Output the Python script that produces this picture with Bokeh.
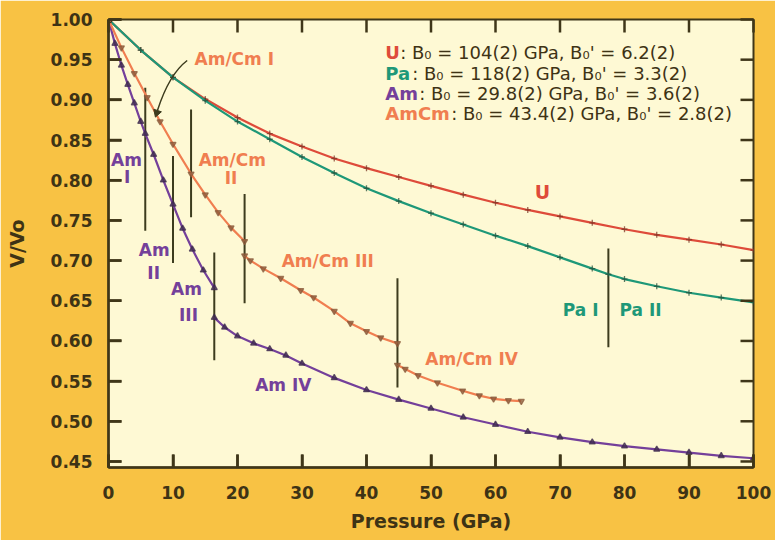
import math
from bokeh.plotting import figure
from bokeh.models import Range1d, FixedTicker, NumeralTickFormatter
from bokeh.core.properties import value
from bokeh.embed import file_html
from bokeh.resources import INLINE

nan = float("nan")

# ---------------- data ----------------
u_p = [0, 5, 10, 15, 20, 25, 30, 35, 40, 45, 50, 55, 60, 65, 70, 75, 80, 85, 90, 95, 100]
u_v = [1.000, 0.962, 0.928, 0.901, 0.878, 0.858, 0.842, 0.827, 0.815, 0.804, 0.793, 0.782, 0.772, 0.763, 0.755, 0.747, 0.739, 0.732, 0.726, 0.720, 0.713]

pa_p = [0, 5, 10, 15, 20, 25, 30, 35, 40, 45, 50, 55, 60, 65, 70, 75, 77.5, 80, 85, 90, 95, 100]
pa_v = [1.000, 0.962, 0.928, 0.899, 0.873, 0.851, 0.829, 0.809, 0.790, 0.774, 0.759, 0.745, 0.731, 0.718, 0.704, 0.690, 0.683, 0.677, 0.668, 0.660, 0.654, 0.648]

am_p = [0, 1, 2, 3, 4, 5, 5.7, 7, 8.5, 10, 11.5, 13, 14.7, 16.4, nan,
        16.4, 18, 20, 22.5, 25, 27.5, 30, 35, 40, 45, 50, 55, 60, 65, 70, 75, 80, 85, 90, 95, 100]
am_v = [1.000, 0.970, 0.943, 0.919, 0.896, 0.873, 0.858, 0.832, 0.800, 0.770, 0.740, 0.714, 0.688, 0.666, nan,
        0.629, 0.617, 0.606, 0.597, 0.590, 0.582, 0.572, 0.554, 0.539, 0.527, 0.516, 0.505, 0.496, 0.487, 0.480, 0.474, 0.469, 0.465, 0.461, 0.457, 0.454]

amcm_p = [0, 2, 4, 6, 8, 10, 12.8, 15, 17, 19, 21.1, nan,
          21.1, 22, 24, 26.7, 29.8, 31.8, 35, 37.5, 40, 42.2, 44.8, nan,
          44.8, 46, 48, 51, 54.9, 57.5, 59.7, 62, 64]
amcm_v = [1.000, 0.965, 0.933, 0.903, 0.873, 0.845, 0.808, 0.782, 0.760, 0.741, 0.724, nan,
          0.706, 0.700, 0.690, 0.678, 0.663, 0.654, 0.637, 0.622, 0.612, 0.604, 0.597, nan,
          0.570, 0.565, 0.557, 0.548, 0.538, 0.532, 0.528, 0.526, 0.525]

# phase-transition markers (pressure, lower V, upper V)
trans_p = [5.7, 10.0, 12.8, 16.4, 21.1, 44.8, 77.5]
trans_v0 = [0.737, 0.697, 0.754, 0.576, 0.647, 0.542, 0.592]
trans_v1 = [0.915, 0.830, 0.888, 0.710, 0.783, 0.678, 0.715]

x_ticks = [0, 10, 20, 30, 40, 50, 60, 70, 80, 90, 100]
y_ticks = [0.45, 0.50, 0.55, 0.60, 0.65, 0.70, 0.75, 0.80, 0.85, 0.90, 0.95, 1.00]

legend_names = ["U", "Pa", "Am", "AmCm"]
legend_rest = [": B\u2080 = 104(2) GPa, B\u2080' = 6.2(2)",
               ": B\u2080 = 118(2) GPa, B\u2080' = 3.3(2)",
               ": B\u2080 = 29.8(2) GPa, B\u2080' = 3.6(2)",
               ": B\u2080 = 43.4(2) GPa, B\u2080' = 2.8(2)"]

# ---------------- styling ----------------
OUTER = "#F8C244"
INNER = "#FEF9D4"
FRAME = "#3F3618"
TXT = "#3E3315"
C_U = "#DE4B3A"
C_PA = "#1E9878"
C_AM = "#74409A"
C_AMCM = "#F07E50"
VLINE = "#3D3C1E"

X0, X1 = 0, 100
Y0, Y1 = 0.4425, 1.0
W, H = 775, 540
BL, BR, BT, BB = 108, 22, 19, 73

p = figure(width=W, height=H, output_backend="svg", toolbar_location=None,
           x_range=Range1d(X0, X1), y_range=Range1d(Y0, Y1),
           min_border_left=BL, min_border_right=BR, min_border_top=BT, min_border_bottom=BB)
p.background_fill_color = INNER
p.border_fill_color = OUTER
p.outline_line_color = FRAME
p.outline_line_width = 2
p.xgrid.visible = False
p.ygrid.visible = False

FONT = "DejaVu Sans"

xa = p.xaxis[0]
ya = p.yaxis[0]
xa.ticker = FixedTicker(ticks=x_ticks)
ya.ticker = FixedTicker(ticks=y_ticks)
ya.formatter = NumeralTickFormatter(format="0.00")
for ax in (xa, ya):
    ax.axis_line_color = FRAME
    ax.axis_line_width = 2.5
    ax.major_tick_line_color = FRAME
    ax.major_tick_line_width = 2.5
    ax.major_tick_in = 13
    ax.major_tick_out = 0
    ax.minor_tick_line_color = None
    ax.major_label_text_font = FONT
    ax.major_label_text_font_style = "bold"
    ax.major_label_text_font_size = "17px"
    ax.major_label_text_color = TXT
    ax.axis_label_text_font = FONT
    ax.axis_label_text_font_style = "bold"
    ax.axis_label_text_font_size = "19px"
    ax.axis_label_text_color = TXT
xa.axis_label = "Pressure (GPa)"
ya.axis_label = "V/Vo"
xa.major_label_standoff = 18
xa.axis_label_standoff = 8
ya.major_label_standoff = 16
ya.axis_label_standoff = 20

# ---------------- phase transition lines ----------------
p.segment(x0=trans_p, y0=trans_v0, x1=trans_p, y1=trans_v1, line_color=VLINE, line_width=2)

# ---------------- curves ----------------
def series(px, pv, color, mcolor, marker):
    p.line(px, pv, line_color=color, line_width=2.2)
    mx = [a for a, b in zip(px, pv) if not (math.isnan(a) or math.isnan(b))]
    my = [b for a, b in zip(px, pv) if not (math.isnan(a) or math.isnan(b))]
    p.scatter(mx, my, marker=marker, size=6, line_color=mcolor, fill_color=mcolor, line_width=1.3, alpha=0.75)

series(u_p, u_v, C_U, "#7A3525", "cross")
series(pa_p, pa_v, C_PA, "#244F3A", "cross")
series(am_p, am_v, C_AM, "#3E2A4E", "triangle")
series(amcm_p, amcm_v, C_AMCM, "#8A5A3A", "inverted_triangle")

p.scatter([0], [1.0], marker="circle", size=7, fill_color=None, line_color=FRAME, line_width=1.2)

# ---------------- annotation arrow for Am/Cm I (curve + head glyph) ----------------
p.quadratic(x0=[12.2], y0=[0.949], x1=[7.6], y1=[0.887], cx=[9.4], cy=[0.932],
            line_color=VLINE, line_width=1.5)
p.scatter([7.5], [0.884], marker="triangle", size=8, angle=2.82,
          fill_color=VLINE, line_color=VLINE)

# ---------------- labels ----------------
def label(x, y, t, color, size="17px"):
    p.text(x=[x], y=[y], text=[t], text_color=color, text_font=value(FONT),
           text_font_style="bold", text_font_size=size, text_align="center", text_baseline="middle")

label(19.5, 0.951, "Am/Cm I", C_AMCM)
label(19.2, 0.825, "Am/Cm", C_AMCM)
label(19.0, 0.803, "II", C_AMCM)
label(2.8, 0.825, "Am", C_AM)
label(2.9, 0.804, "I", C_AM)
label(7.1, 0.713, "Am", C_AM)
label(7.0, 0.685, "II", C_AM)
label(12.1, 0.665, "Am", C_AM)
label(12.4, 0.632, "III", C_AM)
label(27.1, 0.545, "Am IV", C_AM)
label(34.0, 0.700, "Am/Cm III", C_AMCM)
label(56.3, 0.578, "Am/Cm IV", C_AMCM)
label(67.3, 0.785, "U", C_U, "19px")
label(73.2, 0.638, "Pa I", C_PA)
label(82.5, 0.638, "Pa II", C_PA)

# ---------------- legend block ----------------
leg_colors = [C_U, C_PA, C_AM, C_AMCM]
leg_v = [0.9590, 0.9330, 0.9080, 0.8830]
name_w = [15, 27, 34, 66]  # pixel widths of the coloured prefixes
for name, rest, col, v, w in zip(legend_names, legend_rest, leg_colors, leg_v, name_w):
    p.text(x=[42.9], y=[v], text=[name], text_color=col, text_font=value(FONT),
           text_font_style="bold", text_font_size="18px", text_align="left", text_baseline="middle")
    p.text(x=[42.9], y=[v], text=[rest], x_offset=w, text_color=TXT, text_font=value(FONT),
           text_font_size="18px", text_align="left", text_baseline="middle")

# ---------------- inward ticks on all four sides, drawn last on top ----------------
TICK_PX = 13
dx = TICK_PX * (X1 - X0) / (W - BL - BR)
dy = TICK_PX * (Y1 - Y0) / (H - BT - BB)
p.multi_line(xs=[[t, t] for t in x_ticks], ys=[[Y1, Y1 - dy] for t in x_ticks],
             line_color=FRAME, line_width=2.5, level="overlay")
p.multi_line(xs=[[t, t] for t in x_ticks], ys=[[Y0, Y0 + dy] for t in x_ticks],
             line_color=FRAME, line_width=2.5, level="overlay")
p.multi_line(xs=[[X1, X1 - dx] for t in y_ticks], ys=[[t, t] for t in y_ticks],
             line_color=FRAME, line_width=2.5, level="overlay")
p.multi_line(xs=[[X0, X0 + dx] for t in y_ticks], ys=[[t, t] for t in y_ticks],
             line_color=FRAME, line_width=2.5, level="overlay")

open("out.html", "w").write(file_html(p, INLINE))
